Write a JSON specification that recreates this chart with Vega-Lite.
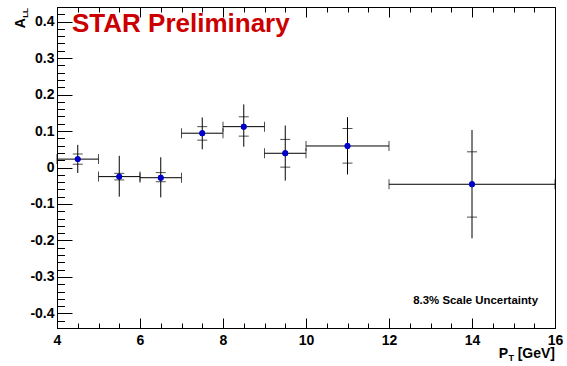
{
  "$schema": "https://vega.github.io/schema/vega-lite/v6.json",
  "width": 498,
  "height": 321,
  "autosize": {"type": "none"},
  "padding": {"left": 57, "top": 7, "right": 12, "bottom": 38},
  "background": "white",
  "config": {
    "view": {"stroke": "black", "strokeWidth": 1},
    "axis": {"domainColor": "black", "tickColor": "black", "labelFont": "Liberation Sans", "labelFontWeight": "bold", "labelFontSize": 14, "labelColor": "black", "grid": false, "domainWidth": 1, "tickWidth": 1}
  },
  "data": {"values": [
    {"x": 4.5, "xlo": 4, "xhi": 5, "y": 0.023, "ylo_o": -0.015, "yhi_o": 0.062, "ylo_i": 0.009, "yhi_i": 0.037},
    {"x": 5.5, "xlo": 5, "xhi": 6, "y": -0.025, "ylo_o": -0.080, "yhi_o": 0.032, "ylo_i": -0.034, "yhi_i": -0.016},
    {"x": 6.5, "xlo": 6, "xhi": 7, "y": -0.028, "ylo_o": -0.082, "yhi_o": 0.028, "ylo_i": -0.039, "yhi_i": -0.014},
    {"x": 7.5, "xlo": 7, "xhi": 8, "y": 0.094, "ylo_o": 0.050, "yhi_o": 0.137, "ylo_i": 0.075, "yhi_i": 0.112},
    {"x": 8.5, "xlo": 8, "xhi": 9, "y": 0.112, "ylo_o": 0.057, "yhi_o": 0.173, "ylo_i": 0.086, "yhi_i": 0.139},
    {"x": 9.5, "xlo": 9, "xhi": 10, "y": 0.039, "ylo_o": -0.036, "yhi_o": 0.115, "ylo_i": 0.001, "yhi_i": 0.077},
    {"x": 11, "xlo": 10, "xhi": 12, "y": 0.059, "ylo_o": -0.019, "yhi_o": 0.138, "ylo_i": 0.012, "yhi_i": 0.107},
    {"x": 14, "xlo": 12, "xhi": 16, "y": -0.046, "ylo_o": -0.194, "yhi_o": 0.103, "ylo_i": -0.136, "yhi_i": 0.043}
  ]},
  "layer": [
    {
      "mark": {"type": "point", "shape": "circle", "filled": true, "color": "#0000cc", "size": 34, "opacity": 1},
      "encoding": {
        "x": {"field": "x", "type": "quantitative", "title": null, "scale": {"domain": [4, 16], "nice": false, "zero": false},
          "axis": {
            "orient": "bottom",
            "values": [4,4.5,5,5.5,6,6.5,7,7.5,8,8.5,9,9.5,10,10.5,11,11.5,12,12.5,13,13.5,14,14.5,15,15.5,16],
            "tickCount": 200,
            "ticks": true,
            "tickSize": -10,
            "tickDash": {"condition": {"test": "datum.value % 2 !== 0", "value": [5, 30]}, "value": [30, 0]},
            "grid": true,
            "gridColor": "black",
            "gridWidth": 1,
            "gridOpacity": 1,
            "gridDash": {"condition": {"test": "datum.value % 2 !== 0", "value": [5, 2000]}, "value": [10, 2000]},
            "labelExpr": "datum.value % 2 === 0 ? '' + datum.value : ''",
            "labelPadding": 15, "labelFlush": false, "labelOverlap": false, "labelBound": false, "title": null
          }},
        "y": {"field": "y", "type": "quantitative", "title": null, "scale": {"domain": [-0.44, 0.44], "nice": false, "zero": false},
          "axis": {
            "values": [-0.44,-0.42,-0.4,-0.38,-0.36,-0.34,-0.32,-0.3,-0.28,-0.26,-0.24,-0.22,-0.2,-0.18,-0.16,-0.14,-0.12,-0.1,-0.08,-0.06,-0.04,-0.02,0,0.02,0.04,0.06,0.08,0.1,0.12,0.14,0.16,0.18,0.2,0.22,0.24,0.26,0.28,0.3,0.32,0.34,0.36,0.38,0.4,0.42,0.44],
            "tickCount": 200,
            "tickSize": -15,
            "tickDash": {"condition": {"test": "abs(datum.value*10 - round(datum.value*10)) > 0.01", "value": [7.5, 30]}, "value": [30, 0]},
            "labelExpr": "abs(datum.value*10 - round(datum.value*10)) < 0.01 ? (abs(datum.value) < 0.001 ? '0' : (datum.value < 0 ? '-' : '') + format(abs(datum.value), '.1f')) : ''",
            "labelPadding": 18, "labelFlush": false, "labelOverlap": false, "labelBound": false, "title": null
          }}
      }
    },
    {
      "mark": {"type": "rule", "color": "black", "strokeWidth": 1},
      "encoding": {
        "x": {"field": "xlo", "type": "quantitative", "title": null},
        "x2": {"field": "xhi"},
        "y": {"field": "y", "type": "quantitative", "title": null}
      }
    },
    {
      "mark": {"type": "tick", "orient": "vertical", "color": "black", "size": 10, "thickness": 1},
      "encoding": {
        "x": {"field": "xlo", "type": "quantitative", "title": null},
        "y": {"field": "y", "type": "quantitative", "title": null}
      }
    },
    {
      "mark": {"type": "tick", "orient": "vertical", "color": "black", "size": 10, "thickness": 1},
      "encoding": {
        "x": {"field": "xhi", "type": "quantitative", "title": null},
        "y": {"field": "y", "type": "quantitative", "title": null}
      }
    },
    {
      "mark": {"type": "rule", "color": "black", "strokeWidth": 1},
      "encoding": {
        "x": {"field": "x", "type": "quantitative", "title": null},
        "y": {"field": "ylo_o", "type": "quantitative", "title": null},
        "y2": {"field": "yhi_o"}
      }
    },
    {
      "mark": {"type": "tick", "orient": "horizontal", "color": "black", "size": 10, "thickness": 1},
      "encoding": {
        "x": {"field": "x", "type": "quantitative", "title": null},
        "y": {"field": "ylo_i", "type": "quantitative", "title": null}
      }
    },
    {
      "mark": {"type": "tick", "orient": "horizontal", "color": "black", "size": 10, "thickness": 1},
      "encoding": {
        "x": {"field": "x", "type": "quantitative", "title": null},
        "y": {"field": "yhi_i", "type": "quantitative", "title": null}
      }
    },
    {
      "mark": {"type": "point", "shape": "circle", "filled": true, "color": "#0000cc", "size": 34, "opacity": 1},
      "encoding": {
        "x": {"field": "x", "type": "quantitative", "title": null},
        "y": {"field": "y", "type": "quantitative", "title": null}
      }
    },
    {
      "data": {"values": [{"label": "STAR Preliminary"}]},
      "mark": {"type": "text", "font": "Liberation Sans", "fontWeight": "bold", "fontSize": 26, "color": "#cc0000", "align": "left", "baseline": "alphabetic", "dx": 15, "dy": 25},
      "encoding": {
        "x": {"datum": 4, "type": "quantitative"},
        "y": {"datum": 0.44, "type": "quantitative"},
        "text": {"field": "label"}
      }
    },
    {
      "data": {"values": [{"label": "8.3% Scale Uncertainty"}]},
      "mark": {"type": "text", "font": "Liberation Sans", "fontWeight": "bold", "fontSize": 11.4, "color": "black", "align": "right", "baseline": "alphabetic", "dx": -17, "dy": -24},
      "encoding": {
        "x": {"datum": 16, "type": "quantitative"},
        "y": {"datum": -0.44, "type": "quantitative"},
        "text": {"field": "label"}
      }
    },
    {
      "data": {"values": [{"label": "[GeV]"}]},
      "mark": {"type": "text", "font": "Liberation Sans", "fontWeight": "bold", "fontSize": 14, "color": "black", "align": "right", "baseline": "alphabetic", "dx": 0, "dy": 30},
      "encoding": {
        "x": {"datum": 16, "type": "quantitative"},
        "y": {"datum": -0.44, "type": "quantitative"},
        "text": {"field": "label"}
      }
    },
    {
      "data": {"values": [{"label": "T"}]},
      "mark": {"type": "text", "font": "Liberation Sans", "fontWeight": "bold", "fontSize": 9, "color": "black", "align": "right", "baseline": "alphabetic", "dx": -41, "dy": 33},
      "encoding": {
        "x": {"datum": 16, "type": "quantitative"},
        "y": {"datum": -0.44, "type": "quantitative"},
        "text": {"field": "label"}
      }
    },
    {
      "data": {"values": [{"label": "P"}]},
      "mark": {"type": "text", "font": "Liberation Sans", "fontWeight": "bold", "fontSize": 14, "color": "black", "align": "right", "baseline": "alphabetic", "dx": -47, "dy": 30},
      "encoding": {
        "x": {"datum": 16, "type": "quantitative"},
        "y": {"datum": -0.44, "type": "quantitative"},
        "text": {"field": "label"}
      }
    },
    {
      "data": {"values": [{"label": "A"}]},
      "mark": {"type": "text", "font": "Liberation Sans", "fontWeight": "bold", "fontSize": 14, "color": "black", "align": "right", "baseline": "alphabetic", "angle": -90, "dx": -11, "dy": -32},
      "encoding": {
        "x": {"datum": 4, "type": "quantitative"},
        "y": {"datum": 0.44, "type": "quantitative"},
        "text": {"field": "label"}
      }
    },
    {
      "data": {"values": [{"label": "LL"}]},
      "mark": {"type": "text", "font": "Liberation Sans", "fontWeight": "bold", "fontSize": 8, "color": "black", "align": "right", "baseline": "alphabetic", "angle": -90, "dx": -1, "dy": -29},
      "encoding": {
        "x": {"datum": 4, "type": "quantitative"},
        "y": {"datum": 0.44, "type": "quantitative"},
        "text": {"field": "label"}
      }
    }
  ]
}
